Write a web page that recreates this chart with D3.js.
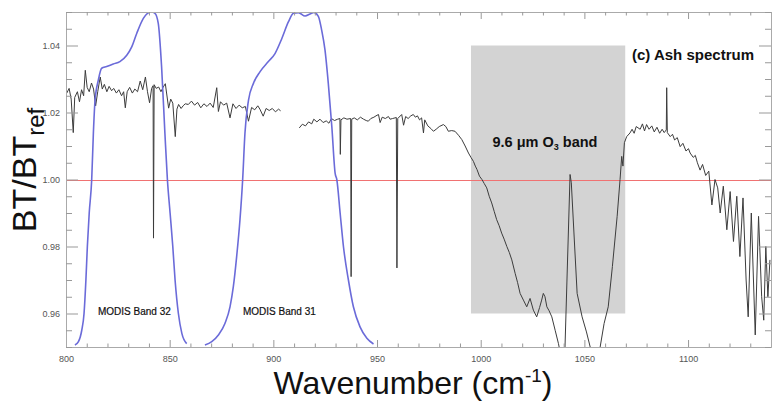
<!DOCTYPE html>
<html>
<head>
<meta charset="utf-8">
<script src="https://cdn.jsdelivr.net/npm/d3@7"></script>
<style>
  body { margin: 0; background: #fff; }
  svg { display: block; font-family: "Liberation Sans", Arial, sans-serif; }
  .tick text { fill: #555; font-size: 9px; }
  .domain { stroke: #aaa; }
  .tick line { stroke: #999; }
</style>
</head>
<body>
<div id="chart"></div>
<script>
// ash spectrum, BT/BT_ref vs wavenumber (null = gap in the record)
var specWn = [800.3,801.5,802.5,803.5,804.2,805.5,806.5,807.5,808.5,809.3,810.2,811.2,812.3,813.3,814.3,815.3,816.5,817.5,818.5,819.7,
  820.8,822,823,824.3,825.5,826.8,827.8,828.6,829.5,830.7,832,833.2,834.5,835.8,837,838.3,839.3,840.3,841.3,842.0,842.2,842.5,843.5,
  844.7,845.8,846.8,847.9,849.5,850.5,851.5,852.7,853.5,854.3,855.5,856.5,857.5,859,860.5,862,863.5,865,866.5,868,869.5,871,872.7,
  873.5,874.5,876,877.5,879.1,880.5,882,883.5,885,886.5,888,889.5,891,892.5,893.5,895.1,896.5,898,899.5,901,902.5,903.5,
  908,
  912.5,914,915.5,917,918.5,919.5,921,922.5,924,925.5,926.8,928,929.5,931,932.1,932.3,932.6,934,935.5,937.3,937.5,937.8,939,940.5,
  942,943.5,944.8,945.8,947,948.5,949.5,950.7,951.5,952.5,954,955.5,956.3,957.5,959.3,959.6,960,961.9,962.8,963.8,965,966.3,967.5,
  968.5,969.5,970.5,971.5,972.4,973,974.5,976,977.2,978.5,980,982,983.2,984.4,986,987.6,989.3,990.9,992.5,994.1,995.3,996.5,997.4,
  998.2,999.4,1000.6,1001.7,1002.9,1004.1,1005.3,1006.5,1007.7,1008.9,1010.1,1011.3,1012.6,1013.8,1015,1016.6,1017.8,1019,1020.6,
  1022.2,1023.8,1025.4,1027,1028.4,1029.4,1030.2,1031,1031.9,1033,1034.3,1035.9,1037.5,1038.8,1040.5,1043.1,1043.7,1046.5,1048.9,
  1051,1052.8,1055,1057.6,1059.5,1061.5,1063.5,1065.8,1067.2,1068,1068.6,1069.3,1070.4,1072,1073,1074,1075,1076.9,1078,1079,1080,
  1081.2,1082.5,1083.7,1085,1086.3,1087.5,1088.5,1089.5,1089.7,1090,1091.4,1092.5,1093.5,1094.8,1096.2,1097.5,1099,1100.2,1101,
  1102.5,1103.5,1104.5,1105.8,1107,1108.5,1110,1111.5,1113,1114.3,1115.5,1117,1118.7,1120.3,1121.9,1123.5,1125,1126.5,1128,1129,
  1130.5,1132.4,1134,1135.5,1136.5,1137.5,1138.5,1139.5];
var specBT = [1.0257,1.0272,1.0240,1.0140,1.0245,1.0262,1.0232,1.0268,1.0250,1.0326,1.0275,1.0262,1.0288,1.0270,1.0220,1.0262,1.0306,1.0270,1.0284,1.0262,
  1.0278,1.0265,1.0272,1.0258,1.0268,1.0250,1.0262,1.0214,1.0262,1.0275,1.0258,1.0270,1.0262,1.0294,1.0268,1.0306,1.0262,1.0229,1.0272,1.0280,0.9825,1.0283,1.0272,
  1.0276,1.0262,1.0275,1.0286,1.0213,1.0240,1.0228,1.0128,1.0210,1.0224,1.0212,1.0220,1.0226,1.0224,1.0234,1.0222,1.0230,1.0214,1.0226,1.0218,1.0228,1.0215,1.0274,
  1.0203,1.0232,1.0222,1.0228,1.0184,1.0226,1.0212,1.0222,1.0214,1.0218,1.0174,1.0215,1.0208,1.0220,1.0210,1.0189,1.0212,1.0206,1.0212,1.0202,1.0210,1.0205,
  null,
  1.0154,1.0165,1.0160,1.0172,1.0166,1.0180,1.0172,1.0180,1.0170,1.0175,1.0168,1.0182,1.0176,1.0180,1.0182,1.0075,1.0178,1.0184,1.0180,1.0182,0.9710,1.0180,1.0184,1.0178,
  1.0186,1.0180,1.0176,1.0174,1.0182,1.0186,1.0190,1.0194,1.0170,1.0186,1.0182,1.0188,1.0180,1.0182,1.0185,0.9736,1.0182,1.0194,1.0162,1.0188,1.0182,1.0190,1.0194,
  1.0186,1.0190,1.0178,1.0184,1.0139,1.0178,1.0160,1.0152,1.0144,1.0150,1.0158,1.0164,1.0158,1.0144,1.0146,1.0144,1.0132,1.0119,1.0100,1.0079,1.0066,1.0054,1.0040,
  1.0030,1.0010,1.0000,0.9988,0.9975,0.9950,0.9930,0.9905,0.9880,0.9862,0.9840,0.9822,0.9800,0.9782,0.9760,0.9720,0.9692,0.9660,0.9640,
  0.9620,0.9645,0.9610,0.9590,0.9618,0.9640,0.9660,0.9650,0.9620,0.9608,0.9590,0.9550,0.9510,0.9470,0.9468,1.0015,0.9990,0.9660,0.9590,
  0.9545,0.9500,0.9450,0.9500,0.9570,0.9620,0.9740,0.9890,1.0000,1.0069,1.0040,1.0110,1.0128,1.0139,1.0150,1.0138,1.0158,1.0150,1.0166,1.0145,1.0164,
  1.0150,1.0160,1.0142,1.0156,1.0138,1.0150,1.0140,1.0148,1.0274,1.0140,1.0128,1.0135,1.0118,1.0125,1.0098,1.0108,1.0085,1.0092,1.0079,
  1.0066,1.0072,1.0050,1.0028,1.0045,1.0012,1.0025,0.9924,1.0000,0.9975,0.9900,0.9980,0.9850,0.9964,0.9815,0.9950,0.9770,0.9945,0.9700,0.9590,
  0.9900,0.9536,0.9890,0.9650,0.9580,0.9800,0.9650,0.9760];

// MODIS spectral response (drawn scaled to the plot height)
var band32Wn = [804.3,806,807.6,808.7,809.6,810.3,811.2,812.4,813.2,814,815.6,817.2,819.6,822.8,826,829.3,831.7,834.1,837.3,839.3,841.3,
  842.9,844.5,846.1,847.7,848.9,850.2,851.5,852.6,854.2,855.9,858.2];
var band32Val = [0.9506,0.9516,0.955,0.960,0.970,0.980,0.990,1.000,1.0138,1.0236,1.0297,1.0332,1.0337,1.0345,1.0352,1.0371,1.0396,1.0436,1.0481,1.0496,1.0500,
  1.0496,1.0466,1.0337,1.0138,1.000,0.990,0.980,0.970,0.960,0.954,0.951];
var band31Wn = [867.0,870.3,873.5,876.7,879.1,880.7,882.3,883.9,885.2,886.3,888,890.4,893.6,897.6,900.8,904.1,907.3,909.7,912.1,915.3,917.7,
  919.6,921.7,923.3,924.9,926.5,928.2,929.8,930.6,932.2,933.8,936.2,938.6,941.8,945.1,948.3];
var band31Val = [0.9506,0.9516,0.9536,0.9571,0.962,0.968,0.977,0.988,1.000,1.0138,1.0236,1.0287,1.0322,1.0352,1.0376,1.0421,1.0471,1.0496,1.0498,1.0488,1.0494,
  1.0499,1.0487,1.0446,1.0387,1.0287,1.0158,1.0018,1.000,0.990,0.980,0.970,0.962,0.956,0.9526,0.9509];

var xMajor = [800, 850, 900, 950, 1000, 1050, 1100];
var yMajor = [0.96, 0.98, 1.00, 1.02, 1.04];
var o3Band = [995.3, 1069.7, 0.96, 1.04];

var width = 776, height = 402;
var margin = {top: 12, right: 5, bottom: 55, left: 66};
var plotW = width - margin.left - margin.right,
    plotH = height - margin.top - margin.bottom;

var svg = d3.select("#chart").append("svg")
  .attr("width", width)
  .attr("height", height);

svg.append("rect").attr("width", width).attr("height", height).attr("fill", "#fff");

var g = svg.append("g")
  .attr("transform", "translate(" + margin.left + "," + margin.top + ")");

var x = d3.scaleLinear().domain([800, 1140]).range([0, plotW]);
var y = d3.scaleLinear().domain([0.95, 1.05]).range([plotH, 0]);

g.append("clipPath").attr("id", "clip")
  .append("rect").attr("width", plotW).attr("height", plotH);

var plot = g.append("g").attr("clip-path", "url(#clip)");

// O3 band shading
plot.append("rect")
  .attr("x", x(o3Band[0]))
  .attr("y", y(o3Band[3]))
  .attr("width", x(o3Band[1]) - x(o3Band[0]))
  .attr("height", y(o3Band[2]) - y(o3Band[3]))
  .attr("fill", "#d3d3d3");

// reference line at 1
plot.append("line")
  .attr("x1", 0).attr("x2", plotW)
  .attr("y1", Math.round(y(1)) + 0.5).attr("y2", Math.round(y(1)) + 0.5)
  .attr("stroke", "#f07272")
  .attr("stroke-width", 1);

var spec = specWn.map(function(w, i) { return {w: w, v: specBT[i]}; });
var line = d3.line()
  .defined(function(d) { return d.v != null; })
  .x(function(d) { return x(d.w); })
  .y(function(d) { return y(d.v); });

plot.append("path")
  .datum(spec)
  .attr("d", line)
  .attr("fill", "none")
  .attr("stroke", "#3c3c3c")
  .attr("stroke-width", 1)
  .attr("stroke-linejoin", "round");

var bands = [
  band32Wn.map(function(w, i) { return {w: w, v: band32Val[i]}; }),
  band31Wn.map(function(w, i) { return {w: w, v: band31Val[i]}; })
];
var curve = d3.line().curve(d3.curveMonotoneX)
  .x(function(d) { return x(d.w); })
  .y(function(d) { return y(d.v); });

plot.selectAll(".band")
  .data(bands)
  .enter().append("path")
  .attr("class", "band")
  .attr("d", curve)
  .attr("fill", "none")
  .attr("stroke", "#6b6bd9")
  .attr("stroke-width", 1.6);

// axes: ticks inside on all four sides
var xMinor = d3.range(800, 1141, 10).filter(function(v) { return xMajor.indexOf(v) < 0; });
var yMinor = d3.range(0, 21).map(function(i) { return +(0.95 + i * 0.005).toFixed(3); })
  .filter(function(v) { return yMajor.indexOf(v) < 0; });

g.append("g")
  .attr("transform", "translate(0," + plotH + ")")
  .call(d3.axisBottom(x).tickValues(xMajor).tickSizeInner(-7).tickSizeOuter(0).tickPadding(9).tickFormat(d3.format("d")));
g.append("g")
  .attr("transform", "translate(0," + plotH + ")")
  .call(d3.axisBottom(x).tickValues(xMinor).tickSizeInner(-3.5).tickSizeOuter(0).tickFormat(""));
g.append("g")
  .call(d3.axisTop(x).tickValues(xMajor).tickSizeInner(-7).tickSizeOuter(0).tickFormat(""));
g.append("g")
  .call(d3.axisTop(x).tickValues(xMinor).tickSizeInner(-3.5).tickSizeOuter(0).tickFormat(""));

g.append("g")
  .call(d3.axisLeft(y).tickValues(yMajor).tickSizeInner(-12).tickSizeOuter(0).tickPadding(6).tickFormat(d3.format(".2f")));
g.append("g")
  .call(d3.axisLeft(y).tickValues(yMinor).tickSizeInner(-6).tickSizeOuter(0).tickFormat(""));
g.append("g")
  .attr("transform", "translate(" + plotW + ",0)")
  .call(d3.axisRight(y).tickValues(yMajor).tickSizeInner(-12).tickSizeOuter(0).tickFormat(""));
g.append("g")
  .attr("transform", "translate(" + plotW + ",0)")
  .call(d3.axisRight(y).tickValues(yMinor).tickSizeInner(-6).tickSizeOuter(0).tickFormat(""));

// annotations
g.append("text")
  .attr("x", 566).attr("y", 48)
  .attr("font-size", "15px").attr("font-weight", "bold").attr("fill", "#111")
  .text("(c) Ash spectrum");

var o3 = g.append("text")
  .attr("x", x(1031)).attr("y", 135)
  .attr("text-anchor", "middle")
  .attr("font-size", "14.5px").attr("font-weight", "bold").attr("fill", "#111");
o3.append("tspan").text("9.6 μm O");
o3.append("tspan").attr("font-size", "9px").attr("dy", 3).text("3");
o3.append("tspan").attr("dy", -3).text(" band");

g.append("text")
  .attr("x", 32).attr("y", 303)
  .attr("font-size", "10px").attr("fill", "#111")
  .attr("stroke", "#111").attr("stroke-width", 0.2)
  .text("MODIS Band 32");
g.append("text")
  .attr("x", 177).attr("y", 303)
  .attr("font-size", "10px").attr("fill", "#111")
  .attr("stroke", "#111").attr("stroke-width", 0.2)
  .text("MODIS Band 31");

// axis titles
var xt = svg.append("text")
  .attr("x", 413).attr("y", 394)
  .attr("text-anchor", "middle")
  .attr("font-size", "32px").attr("fill", "#111");
xt.append("tspan").text("Wavenumber (cm");
xt.append("tspan").attr("font-size", "19px").attr("dy", -12).text("-1");
xt.append("tspan").attr("dy", 12).text(")");

var yt = svg.append("text")
  .attr("transform", "translate(36,170) rotate(-90)")
  .attr("text-anchor", "middle")
  .attr("font-size", "34px").attr("fill", "#111");
yt.append("tspan").text("BT/BT");
yt.append("tspan").attr("font-size", "24px").attr("dy", 8).text("ref");
</script>
</body>
</html>
